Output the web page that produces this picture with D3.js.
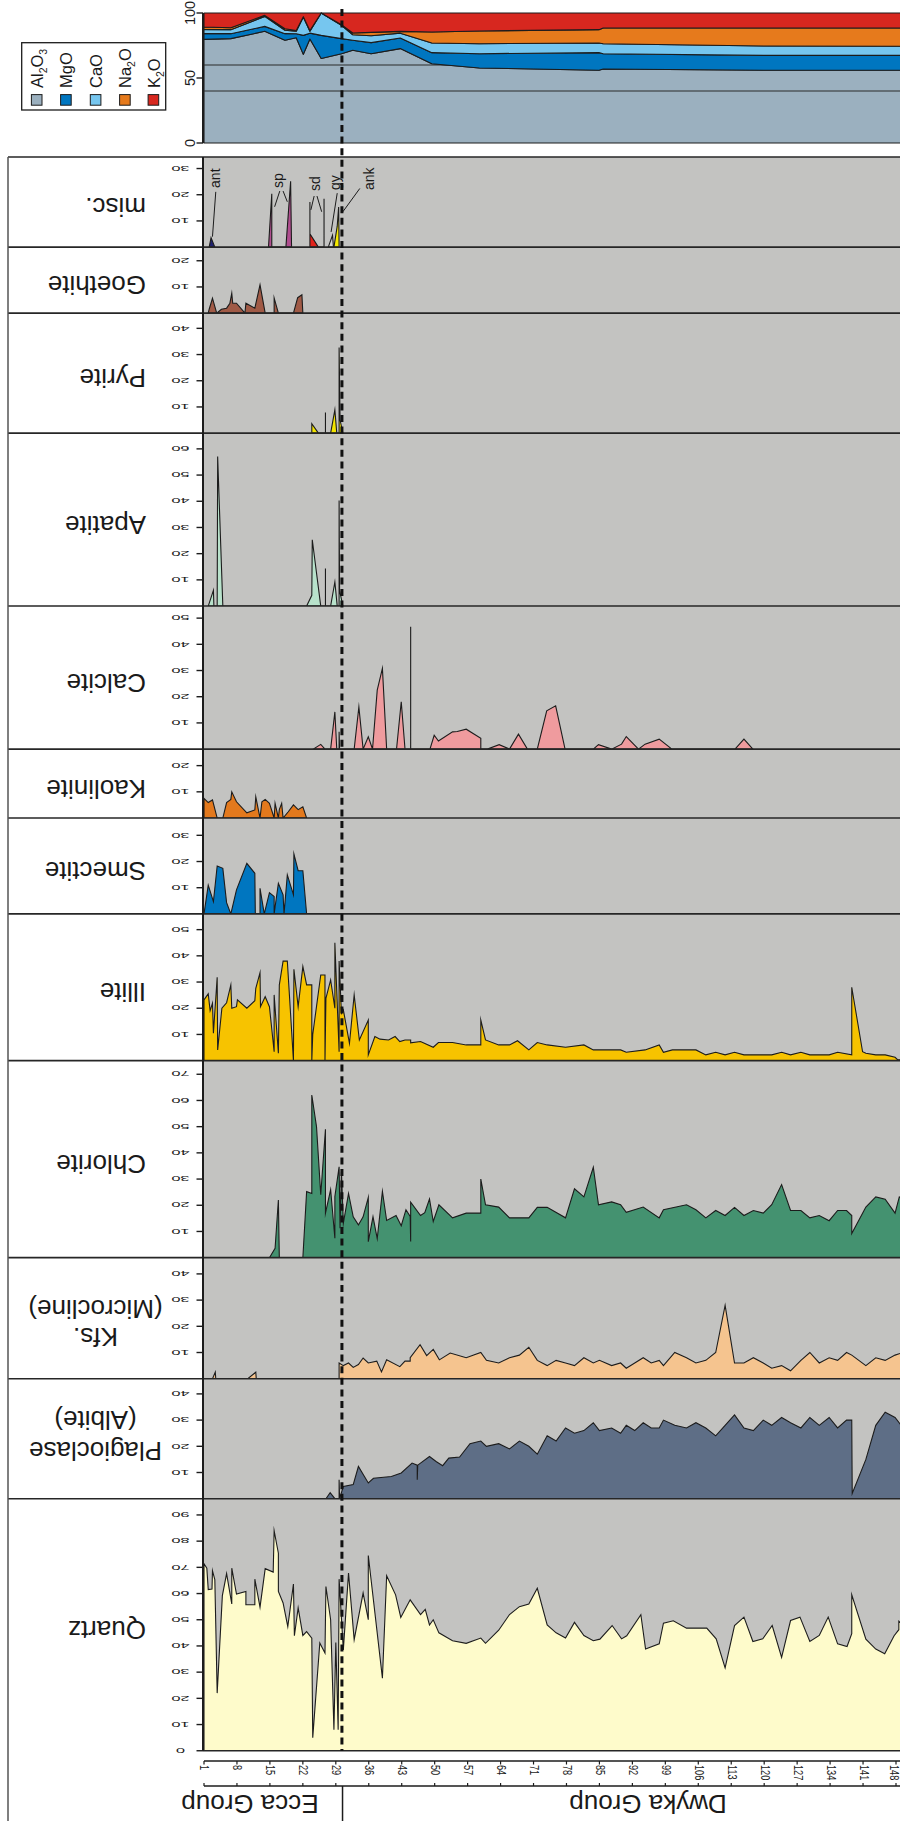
<!DOCTYPE html>
<html>
<head>
<meta charset="utf-8">
<script src="https://cdn.jsdelivr.net/npm/d3@7"></script>
<style>
  body { margin: 0; background: #fff; }
  svg { display: block; }
  text { font-family: "Liberation Sans", Arial, sans-serif; fill: #1a1a1a; }
</style>
</head>
<body>
<svg id="chart" width="900" height="1821"></svg>
<script>
// ---------- sample axis ----------
const sampleTicks = [1, 8, 15, 22, 29, 36, 43, 50, 57, 64, 71, 78, 85, 92, 99, 106, 113, 120, 127, 134, 141, 148];
const groupBoundary = 30.3;            // Ecca / Dwyka contact (sample position)
const groupNames = ["Ecca Group", "Dwyka Group"];

// ---------- bulk oxides (wt.% normalised to 100) ----------
const oxideSamples = [1, 6.7, 13.9, 18.2, 20.6, 22.1, 23.5, 25.9, 30.2, 32.6, 36.5, 42.7, 49.4, 59.5, 84.9, 85.8, 119.9, 149.5];
const al2o3 = [79.7, 80.3, 85.9, 79.0, 81.0, 68.2, 80.0, 65.0, 68.7, 71.3, 68.7, 72.6, 61.0, 57.7, 56.0, 56.9, 56.0, 56.0];
const mgo   = [4.4, 3.8, 3.8, 5.1, 3.0, 14.6, 4.5, 17.8, 11.6, 7.7, 8.5, 8.2, 8.5, 11.0, 13.5, 11.8, 11.4, 11.4];
const cao   = [3.3, 3.1, 7.7, 2.6, 2.0, 14.1, 1.5, 17.2, 10.2, 4.3, 5.3, 3.7, 7.4, 7.7, 7.4, 7.7, 7.2, 7.0];
const na2o  = [1.8, 1.5, 0.8, 1.2, 0.5, 0.3, 0.5, 0.0, 0.5, 1.3, 2.6, 1.4, 8.5, 9.8, 10.3, 12.1, 13.9, 14.1];
const k2o   = [10.8, 11.3, 1.8, 12.1, 13.5, 2.8, 13.5, 0.0, 9.0, 15.4, 14.9, 14.1, 14.6, 13.8, 12.8, 11.5, 11.5, 11.5];
const oxideTicks = [0, 50, 100];
const oxideGuides = [40, 60];

// ---------- mineralogy (wt.%), [sample position, value] ----------
const quartz = [[1.0,71.4],[1.6,69.7],[1.9,61.5],[2.7,61.7],[2.8,68.7],[3.3,65.3],[3.8,22],[4.9,59.2],[5.8,67.6],[6.9,56],[6.9,69.7],[7.9,59.8],[9.9,60.8],[9.9,55.7],[11.8,55.7],[11.8,65.5],[12.9,54.8],[14.0,69.5],[15.7,68.2],[15.9,84],[16.8,75.4],[16.8,60.8],[17.8,56.4],[18.8,47.4],[20.0,63.6],[20.2,43.9],[21.0,54.5],[22.0,44],[22.8,45.5],[23.9,43],[24.1,5],[25.6,41.1],[26.7,37.3],[26.9,62.7],[27.9,50],[28.6,8],[29.0,41.3],[29.5,8],[29.7,65.5],[30.6,38.5],[31.7,67.8],[32.9,42.4],[34.8,60.2],[35.9,50],[35.9,74.5],[38.9,27.7],[39.8,66.8],[41.7,59.5],[42.8,50.9],[44.8,57.6],[47.0,52],[48.0,54],[48.9,48],[49.7,50],[50.9,45],[53.8,42],[56.7,41],[59.8,43],[60.8,41],[63.6,46],[65.9,52],[68.0,55],[70.0,56],[71.8,62],[73.9,48],[75.8,45],[77.8,43],[79.7,49],[81.7,44],[83.7,42],[85.1,42.6],[87.7,47.8],[89.7,42.7],[90.8,43.9],[93.8,51.9],[94.8,38.8],[97.7,40.8],[98.6,48.7],[100.7,49.6],[103.5,46.8],[107.8,46.8],[109.8,42.7],[111.7,31.6],[113.7,47.8],[115.7,51],[117.6,41.7],[119.7,42.7],[121.7,47.8],[123.7,35.6],[125.6,49.7],[127.6,51],[129.7,41.7],[131.7,44],[133.6,51],[135.6,40.8],[137.6,39.8],[138.6,44.7],[138.6,59.5],[141.6,42.6],[143.7,38.8],[145.6,37],[147.6,43.9],[148.6,46.2],[148.6,49.4],[149.5,48]];

const plagioclase = [[26.9,0],[27.8,2.3],[28.8,0],[29.7,0],[29.7,7.2],[29.8,0],[30.6,4.7],[32.7,5.4],[33.8,12.3],[35.9,6],[37.0,7.8],[40.8,8.5],[42.9,9.8],[45.2,13.6],[46.3,12.8],[46.3,7.2],[46.4,12.8],[48.9,16.1],[50.3,14.2],[51.7,12.6],[53.0,15.5],[55.3,15.9],[57.5,21],[59.8,22],[61.0,20],[63.6,21],[65.9,19],[68.0,22],[70.0,20],[71.8,17],[73.9,24],[75.8,22],[77.8,27],[79.7,25],[81.7,26],[83.7,29],[85.0,26],[87.6,27],[89.5,25],[90.7,28],[92.5,26],[94.3,29],[96.0,27],[97.7,27],[98.6,30],[101.0,28],[103.5,27],[105.5,29],[107.6,27],[109.7,24],[111.7,28],[113.7,32],[115.7,27],[117.7,26],[119.8,30],[121.6,28],[123.7,31],[125.6,29],[127.8,27],[129.7,31],[131.7,28],[133.8,31],[135.6,27],[137.5,30],[138.6,30],[138.7,2],[141.6,15],[143.7,28],[145.7,33],[147.8,31],[149.5,27]];

const kfeldspar = [[2.8,0],[3.4,2.5],[3.5,0],[10.3,0],[12.0,2.5],[12.1,0],[29.7,0],[29.7,6],[30.6,5],[31.7,6],[32.7,4.3],[33.8,5.4],[34.8,7.9],[35.9,6],[37.7,6.7],[38.7,2.6],[39.8,7.2],[42.6,4.6],[43.7,6.7],[44.8,6.7],[44.8,8],[46.9,13],[48.3,8.8],[49.7,11.2],[51.0,7.2],[53.3,9.8],[56.7,8],[59.8,10],[61.0,7],[63.6,6],[65.9,8],[68.0,9],[70.0,12],[71.8,7],[73.9,5],[75.8,7],[77.8,6],[79.7,5],[81.7,8],[83.7,6],[85.0,7],[87.6,5],[89.5,6],[90.7,4],[92.5,6],[94.3,8],[96.0,6],[97.7,7],[98.6,5],[101.0,10],[103.5,8],[105.5,6],[107.6,7],[109.7,10],[111.7,28],[113.7,6],[115.7,6],[117.7,8],[119.8,6],[121.6,4],[123.7,5],[125.6,3],[127.8,7],[129.7,10],[131.7,6],[133.8,8],[135.6,7],[137.5,10],[138.6,9],[141.6,5],[143.7,8],[145.7,7],[147.8,9],[149.5,10]];

const chlorite = [[14.9,0],[16.1,3.6],[16.8,22],[17.0,0],[22.0,0],[22.8,25.2],[23.9,24.5],[23.9,62.1],[24.9,50],[25.8,24],[26.8,49],[26.8,17],[27.9,26],[28.8,7.4],[28.8,23.3],[29.7,34.7],[29.9,11.2],[30.2,32.8],[30.6,13.1],[31.7,24.5],[32.7,15.6],[33.8,12.5],[34.8,15.6],[35.9,23],[35.9,6.1],[36.9,15.6],[37.8,7.3],[38.9,25.3],[39.8,14.2],[41.8,16.1],[42.9,12.2],[43.9,18.3],[44.8,15.7],[44.9,6.2],[44.9,21.2],[47.0,16.1],[47.9,17.2],[48.9,22.4],[49.7,13.8],[50.9,20.2],[53.8,15.2],[56.7,17],[59.8,17],[59.8,30],[60.8,20.2],[63.6,19.3],[65.9,15.2],[70.0,15.2],[71.8,19.2],[73.9,19.2],[77.8,15.2],[79.7,26.3],[81.7,23.2],[83.7,34.5],[84.8,20.2],[87.6,21.3],[89.5,20.2],[90.7,17.3],[94.3,19.3],[97.7,15.2],[98.6,18.3],[103.5,20.2],[105.5,18.3],[107.6,15.2],[109.7,18],[111.7,16.1],[113.7,19.2],[115.7,16.1],[117.7,18],[119.8,17],[121.6,20.2],[123.7,27.9],[125.6,18],[127.8,18],[129.7,15.2],[131.7,16.1],[133.8,14.1],[135.6,18],[137.5,18],[138.6,16.1],[138.6,9.2],[141.6,19.3],[143.7,23.2],[145.7,22.3],[147.8,17],[148.7,23.2],[149.5,22]];

const illite = [[1.0,23.2],[1.9,25.5],[2.3,19.1],[2.8,21.9],[3.0,10.5],[3.8,31.8],[3.9,4.1],[4.8,20],[5.8,22.1],[6.7,28.9],[6.9,20],[7.9,20.6],[8.1,23.2],[10.1,20],[11.8,22.9],[12.0,27.6],[12.9,33.6],[13.0,20.6],[14.0,24.4],[14.9,20.6],[15.9,3.4],[15.9,25.1],[16.8,2.8],[17.0,28.9],[17.8,38],[18.7,38],[20.0,0],[20.1,34.9],[21.0,20.6],[22.0,35.9],[22.8,28.9],[23.9,28.9],[23.9,0],[24.1,10],[25.8,32.7],[26.7,32.7],[26.7,0],[26.9,23.8],[27.9,30.8],[28.8,20],[28.8,45],[29.7,3.4],[29.7,38],[30.2,18.1],[30.6,19.4],[31.9,6.6],[32.9,25.1],[34.0,7.9],[35.9,15.5],[35.9,2.2],[37.3,9.2],[38.4,8.2],[40.2,7.9],[41.6,9.2],[42.6,7.3],[43.7,7.9],[44.9,7.9],[44.9,6.8],[47.0,7.3],[49.7,5.1],[50.8,6.9],[53.8,6.9],[56.7,6],[59.8,6],[59.8,15.5],[60.8,7.9],[63.6,6],[65.9,6],[67.6,7.6],[70.0,4.1],[71.8,6.9],[73.9,6],[77.8,5.1],[81.7,6],[83.7,4.1],[89.5,4.1],[90.7,3.2],[94.7,4.1],[97.7,6],[98.6,3.2],[100.5,4.1],[105.5,4.1],[107.6,2.2],[109.7,3.2],[111.7,2.2],[113.7,3.2],[115.7,2.2],[121.6,2.2],[123.7,3.2],[125.6,2.2],[127.8,3.2],[129.7,2.2],[133.8,2.2],[135.6,3.2],[138.6,2.2],[138.6,28],[140.9,3.4],[141.6,2.8],[143.7,2.2],[145.7,2.2],[147.8,1.3],[148.4,0.3],[149.5,0.3]];

const smectite = [[1.0,0],[1.9,11],[3.0,4.7],[3.8,18.3],[5.0,17.4],[5.8,4.3],[6.7,0],[7.9,9.2],[10.1,19.3],[11.8,15.5],[11.9,0],[12.9,0],[12.9,9.8],[13.8,0],[14.9,8.1],[15.9,6.6],[15.9,0],[16.8,11.7],[17.8,7.3],[18.0,0],[18.7,14.9],[20.0,7.3],[20.1,22.9],[21.0,16.5],[22.0,16.5],[22.8,0]];

const kaolinite = [[1.0,7.5],[1.9,5.9],[2.8,6.9],[3.8,0],[5.0,0],[5.8,5.9],[6.7,7.1],[6.9,10],[7.9,6.2],[10.1,2],[11.8,3.1],[12.0,8.1],[12.9,0],[13.3,6.2],[14.0,7.1],[14.9,5.6],[15.9,0],[16.1,5.6],[16.8,0],[17.0,3.2],[17.5,5.6],[17.8,0],[18.9,2.4],[20.0,5],[21.0,3.2],[22.0,4.3],[22.8,0]];

const calcite = [[24.2,0],[25.8,1.8],[26.7,0],[27.9,0],[28.8,14.2],[29.2,0],[29.7,0],[29.7,6.6],[29.8,0],[32.9,0],[33.9,16.1],[34.8,0],[35.9,4.7],[36.8,0],[37.8,22.5],[38.9,30.8],[39.8,0],[41.9,0],[42.9,18.1],[43.7,0],[44.9,0],[44.9,46.7],[44.9,0],[49.0,0],[49.9,5.3],[50.8,3.1],[53.8,6.6],[54.8,6.7],[56.7,7.6],[59.8,4.1],[59.8,0],[61.2,0],[63.7,1.7],[65.9,0],[67.8,5.7],[69.7,0],[71.8,0],[73.8,14.6],[75.7,16.5],[77.7,0],[83.7,0],[84.8,1.7],[87.6,0],[89.7,1.9],[90.7,4.8],[93.3,0],[94.7,1.9],[97.7,3.8],[100.4,0],[113.8,0],[115.7,3.8],[117.6,0]];

const apatite = [[1.9,0],[3.0,6],[3.1,0],[3.8,0],[3.9,57.1],[5.0,0],[22.8,0],[23.9,4.1],[24.0,25.3],[25.8,0],[26.8,0],[26.8,14.3],[26.8,0],[27.9,0],[28.8,9.2],[29.3,0],[29.7,0],[29.7,40.3],[29.8,6],[30.5,0]];

const pyrite = [[23.9,0],[23.9,3.6],[25.3,0],[26.8,0],[26.8,7.9],[26.8,0],[27.9,0],[28.8,8.9],[29.2,0],[29.7,0],[29.7,32.7],[29.9,5.1],[30.5,0]];

const goethite = [[1.9,0],[2.1,1.5],[2.8,5.7],[3.7,0],[4.7,1.5],[5.8,1.9],[6.5,3.8],[6.9,7.6],[7.1,3.8],[7.9,3.8],[9.7,0],[9.9,3.8],[11.8,1.9],[12.9,10.8],[14.0,0],[15.9,0],[15.9,5.8],[16.8,0],[20.0,0],[20.9,5.9],[21.8,7],[22.0,0]];

// misc. phases: anatase, sphalerite, siderite, gypsum, ankerite
const miscAnt = [[2.1,0],[2.5,3.6],[3.3,0]];
const miscSp  = [[14.7,0],[15.4,20.4],[15.4,0],[18.4,0],[19.4,25.1],[19.6,0]];
const miscSd  = [[23.5,0],[23.5,17.2],[23.5,5.1],[25.3,0],[26.5,0],[26.5,18.5],[26.5,0]];
const miscGy  = [[27.4,0],[28.3,4.5],[28.5,0]];
const miscAnk = [[28.6,0],[29.3,8],[29.6,15.3],[29.7,0]];
const miscLabels = ["ant", "sp", "sd", "gy", "ank"];

// ---------- panels (top to bottom) ----------
const panelNames = [["misc."], ["Goethite"], ["Pyrite"], ["Apatite"], ["Calcite"], ["Kaolinite"], ["Smectite"], ["Illite"], ["Chlorite"], ["Kfs.", "(Microcline)"], ["Plagioclase", "(Albite)"], ["Quartz"]];
const panelMax = [34.4, 25.2, 45.8, 66, 54.6, 26.3, 36.6, 56, 75.2, 46.2, 45.8, 96.2];
const panelTicks = [[10,20,30],[10,20],[10,20,30,40],[10,20,30,40,50,60],[10,20,30,40,50],[10,20],[10,20,30],[10,20,30,40,50],[10,20,30,40,50,60,70],[10,20,30,40],[10,20,30,40],[0,10,20,30,40,50,60,70,80,90]];

// ================= drawing =================
(function draw() {
  const svg = d3.select("#chart");
  const plotL = 203, plotR = 900;
  const x = d3.scaleLinear().domain([1, 148]).range([204, 896]);
  const pxPerUnit = 2.62;
  const firstPanelTop = 157;
  const ink = "#1c1c1c";

  svg.append("rect").attr("width", 900).attr("height", 1821).attr("fill", "#fff");

  const defs = svg.append("defs");
  defs.append("clipPath").attr("id", "plotClip")
    .append("rect").attr("x", plotL).attr("y", 0).attr("width", plotR - plotL).attr("height", 1821);

  // ----- stacked oxide panel -----
  const yOx = d3.scaleLinear().domain([0, 100]).range([143, 13]);
  const oxKeys = ["Al2O3", "MgO", "CaO", "Na2O", "K2O"];
  const oxColors = { Al2O3: "#9bb0bf", MgO: "#0076c0", CaO: "#76c6ef", Na2O: "#e67a1c", K2O: "#d7271f" };
  const oxRows = oxideSamples.map((s, i) => ({ s, Al2O3: al2o3[i], MgO: mgo[i], CaO: cao[i], Na2O: na2o[i], K2O: k2o[i] }));
  const oxSeries = d3.stack().keys(oxKeys)(oxRows);
  const oxArea = d3.area().x(d => x(d.data.s)).y0(d => yOx(d[0])).y1(d => yOx(d[1]));

  const gOx = svg.append("g").attr("clip-path", "url(#plotClip)");
  oxSeries.forEach((layer, i) => {
    gOx.append("path").datum(layer)
      .attr("d", oxArea)
      .attr("fill", oxColors[layer.key])
      .attr("stroke", ink).attr("stroke-width", 1.1).attr("stroke-linejoin", "round");
    if (i === 0) {
      oxideGuides.forEach(v => {
        gOx.append("line").attr("x1", plotL).attr("x2", plotR)
          .attr("y1", yOx(v)).attr("y2", yOx(v))
          .attr("stroke", "#2a2a2a").attr("stroke-width", 1.2);
      });
    }
  });
  svg.append("line").attr("x1", plotL).attr("x2", plotL).attr("y1", yOx(100)).attr("y2", yOx(0))
    .attr("stroke", ink).attr("stroke-width", 2);
  oxideTicks.forEach(t => {
    svg.append("line").attr("x1", 196.5).attr("x2", plotL).attr("y1", yOx(t)).attr("y2", yOx(t))
      .attr("stroke", ink).attr("stroke-width", 1.4);
    svg.append("text").attr("transform", `translate(195,${yOx(t)}) rotate(-90)`)
      .attr("text-anchor", "middle").attr("font-size", 14.5).text(t);
  });

  // legend
  const legend = svg.append("g");
  legend.append("rect").attr("x", 21.7).attr("y", 42.7).attr("width", 144).attr("height", 67.3)
    .attr("fill", "#fff").attr("stroke", ink).attr("stroke-width", 1.3);
  const legendX = [36.7, 65.9, 95.6, 124.9, 153.4];
  const legendParts = [[["Al",0],["2",1],["O",0],["3",1]], [["MgO",0]], [["CaO",0]], [["Na",0],["2",1],["O",0]], [["K",0],["2",1],["O",0]]];
  oxKeys.forEach((k, i) => {
    legend.append("rect").attr("x", legendX[i] - 5.3).attr("y", 94.6).attr("width", 10.6).attr("height", 10.6)
      .attr("fill", oxColors[k]).attr("stroke", ink).attr("stroke-width", 1);
    const t = legend.append("text").attr("transform", `translate(${legendX[i] + 6.3},88) rotate(-90)`)
      .attr("font-size", 16.5);
    let shifted = false;
    legendParts[i].forEach(([s, sub]) => {
      const ts = t.append("tspan").text(s);
      if (sub) { ts.attr("font-size", 10.5).attr("dy", shifted ? 0 : 4); shifted = true; }
      else if (shifted) { ts.attr("dy", -4); shifted = false; }
    });
  });

  // ----- mineral panels -----
  const fills = {
    quartz: "#fefbcb", plagioclase: "#5e6e86", kfeldspar: "#f5c48f", chlorite: "#449270",
    illite: "#f7c300", smectite: "#0076c0", kaolinite: "#e3791d", calcite: "#ef9b9e",
    apatite: "#b8e2cb", pyrite: "#f3e400", goethite: "#a05a46",
    ant: "#1f2170", sp: "#b04e8f", sd: "#e2231b", gy: "#d6d6d6", ank: "#f6ea00"
  };
  const panelSeries = [
    [[miscAnt, "ant"], [miscSp, "sp"], [miscSd, "sd"], [miscGy, "gy"], [miscAnk, "ank"]],
    [[goethite, "goethite"]], [[pyrite, "pyrite"]], [[apatite, "apatite"]], [[calcite, "calcite"]],
    [[kaolinite, "kaolinite"]], [[smectite, "smectite"]], [[illite, "illite"]], [[chlorite, "chlorite"]],
    [[kfeldspar, "kfeldspar"]], [[plagioclase, "plagioclase"]], [[quartz, "quartz"]]
  ];
  // label baseline offsets from panel centre (rotated 180°)
  const twoLineOffsets = { "Kfs.": [9.5, -18.5], "Plagioclase": [3, -28] };

  let panelTop = firstPanelTop;
  const panelBounds = [];
  let miscY = null;
  panelNames.forEach((names, i) => {
    const h = panelMax[i] * pxPerUnit;
    const bottom = panelTop + h;
    const y = d3.scaleLinear().domain([0, panelMax[i]]).range([bottom, panelTop]);
    if (i === 0) miscY = y;
    panelBounds.push([panelTop, bottom]);

    svg.append("rect").attr("x", plotL).attr("y", panelTop).attr("width", plotR - plotL).attr("height", h)
      .attr("fill", "#c3c3c1");

    const clipId = "pc" + i;
    defs.append("clipPath").attr("id", clipId)
      .append("rect").attr("x", plotL).attr("y", panelTop).attr("width", plotR - plotL).attr("height", h);
    const g = svg.append("g").attr("clip-path", `url(#${clipId})`);
    const area = d3.area().x(d => x(d[0])).y0(y(0)).y1(d => y(d[1]));
    panelSeries[i].forEach(([data, key]) => {
      g.append("path").datum(data).attr("d", area)
        .attr("fill", fills[key]).attr("stroke", ink).attr("stroke-width", 1.1)
        .attr("stroke-linejoin", "miter").attr("stroke-miterlimit", 10);
    });

    // value ticks (labels drawn upside down, horizontally stretched)
    panelTicks[i].forEach(t => {
      svg.append("line").attr("x1", 196.5).attr("x2", plotL).attr("y1", y(t)).attr("y2", y(t))
        .attr("stroke", ink).attr("stroke-width", 1.4);
      svg.append("text").attr("transform", `translate(180.5,${y(t) - 2.8}) scale(2.1,1) rotate(180)`)
        .attr("text-anchor", "middle").attr("font-size", 7.8).text(t);
    });

    // mineral name
    const mid = (panelTop + bottom) / 2;
    if (names.length === 1) {
      svg.append("text").attr("transform", `translate(146,${mid - 4}) rotate(180)`)
        .attr("text-anchor", "start").attr("font-size", 26).text(names[0]);
    } else {
      const offs = twoLineOffsets[names[0]];
      names.forEach((nm, j) => {
        svg.append("text").attr("transform", `translate(95.5,${mid + offs[j]}) rotate(180)`)
          .attr("text-anchor", "middle").attr("font-size", 26).text(nm);
      });
    }
    panelTop = bottom;
  });
  const plotBottom = panelTop;

  // misc. phase annotations: [label n, label v, leader segments]
  const miscAnno = [
    [4.4, 22.6, [[3.5, 21.1, 2.8, 4.0]]],
    [17.7, 22.6, [[17.1, 21.4, 16.0, 15.4], [17.8, 21.4, 18.7, 17.3]]],
    [25.6, 21.4, [[24.4, 19.5, 23.7, 14.2], [25.0, 19.5, 26.0, 13.5]]],
    [29.9, 21.8, [[29.3, 20.6, 28.0, 5.8]]],
    [37.1, 21.8, [[34.1, 22.4, 30.5, 13.5]]]
  ];
  miscAnno.forEach(([n, v, segs], i) => {
    svg.append("text").attr("transform", `translate(${x(n)},${miscY(v)}) rotate(-90)`)
      .attr("font-size", 14).text(miscLabels[i]);
    segs.forEach(s => {
      svg.append("line").attr("x1", x(s[0])).attr("y1", miscY(s[1])).attr("x2", x(s[2])).attr("y2", miscY(s[3]))
        .attr("stroke", ink).attr("stroke-width", 1);
    });
  });

  // panel separators and frame
  const boundaries = [firstPanelTop].concat(panelBounds.map(b => b[1]));
  boundaries.forEach((b, i) => {
    const last = i === boundaries.length - 1;
    svg.append("line").attr("x1", last ? plotL : 8).attr("x2", plotR).attr("y1", b).attr("y2", b)
      .attr("stroke", "#262626").attr("stroke-width", 1.6);
  });
  svg.append("line").attr("x1", 8).attr("x2", 8).attr("y1", firstPanelTop).attr("y2", 1821)
    .attr("stroke", "#555").attr("stroke-width", 1.5);
  svg.append("line").attr("x1", plotL).attr("x2", plotL).attr("y1", firstPanelTop).attr("y2", plotBottom)
    .attr("stroke", ink).attr("stroke-width", 2);

  // Ecca / Dwyka contact
  svg.append("line").attr("x1", x(groupBoundary)).attr("x2", x(groupBoundary))
    .attr("y1", 9).attr("y2", plotBottom)
    .attr("stroke", "#111").attr("stroke-width", 3).attr("stroke-dasharray", "7,4.6");

  // ----- sample axis -----
  const axTop = 1761, axBot = 1786;
  svg.append("line").attr("x1", x(1)).attr("x2", plotR).attr("y1", axTop).attr("y2", axTop)
    .attr("stroke", ink).attr("stroke-width", 1.3);
  svg.append("line").attr("x1", x(1)).attr("x2", plotR).attr("y1", axBot).attr("y2", axBot)
    .attr("stroke", ink).attr("stroke-width", 1.3);
  sampleTicks.forEach(t => {
    svg.append("line").attr("x1", x(t)).attr("x2", x(t)).attr("y1", axTop).attr("y2", axTop + 3.5)
      .attr("stroke", ink).attr("stroke-width", 1.2);
    svg.append("line").attr("x1", x(t)).attr("x2", x(t)).attr("y1", axBot - 3).attr("y2", axBot)
      .attr("stroke", ink).attr("stroke-width", 1.2);
    // vertical labels, glyphs widened across the axis
    svg.append("text").attr("transform", `translate(${Math.min(x(t) + 0.8, 894.5)},1765) scale(1.3,1) rotate(90)`)
      .attr("text-anchor", "start").attr("dy", "0.36em").attr("font-size", 9.2).text(t);
  });
  svg.append("line").attr("x1", x(groupBoundary) + 0.6).attr("x2", x(groupBoundary) + 0.6)
    .attr("y1", axBot).attr("y2", 1821).attr("stroke", ink).attr("stroke-width", 1.5);
  svg.append("text").attr("transform", "translate(250,1795) rotate(180)")
    .attr("text-anchor", "middle").attr("font-size", 26).text(groupNames[0]);
  svg.append("text").attr("transform", "translate(648,1795) rotate(180)")
    .attr("text-anchor", "middle").attr("font-size", 26).text(groupNames[1]);
})();
</script>
</body>
</html>
